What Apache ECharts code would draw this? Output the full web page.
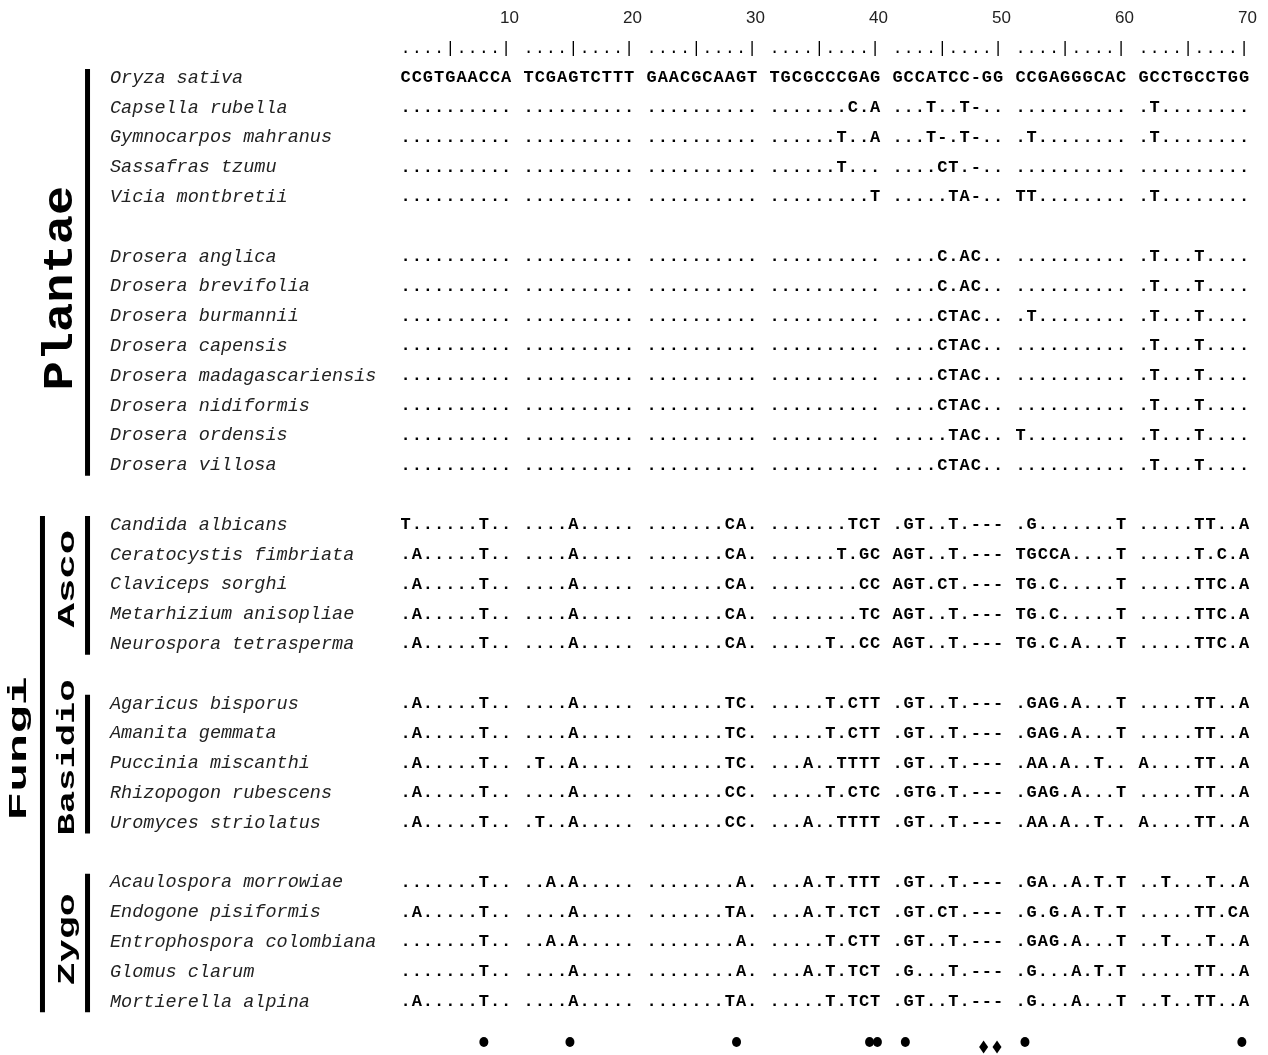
<!DOCTYPE html>
<html><head><meta charset="utf-8">
<script src="https://cdn.jsdelivr.net/npm/echarts@6/dist/echarts.min.js"></script>
<style>html,body{margin:0;padding:0;background:#fff}#c{width:1268px;height:1055px}</style>
</head><body><div id="c"></div>
<script>
// ---------------- data ----------------
const species = [
  'Oryza sativa','Capsella rubella','Gymnocarpos mahranus','Sassafras tzumu','Vicia montbretii',
  'Drosera anglica','Drosera brevifolia','Drosera burmannii','Drosera capensis','Drosera madagascariensis','Drosera nidiformis','Drosera ordensis','Drosera villosa',
  'Candida albicans','Ceratocystis fimbriata','Claviceps sorghi','Metarhizium anisopliae','Neurospora tetrasperma',
  'Agaricus bisporus','Amanita gemmata','Puccinia miscanthi','Rhizopogon rubescens','Uromyces striolatus',
  'Acaulospora morrowiae','Endogone pisiformis','Entrophospora colombiana','Glomus clarum','Mortierella alpina'
];
const sequences = [
  'CCGTGAACCA TCGAGTCTTT GAACGCAAGT TGCGCCCGAG GCCATCC-GG CCGAGGGCAC GCCTGCCTGG',
  '.......... .......... .......... .......C.A ...T..T-.. .......... .T........',
  '.......... .......... .......... ......T..A ...T-.T-.. .T........ .T........',
  '.......... .......... .......... ......T... ....CT.-.. .......... ..........',
  '.......... .......... .......... .........T .....TA-.. TT........ .T........',
  '.......... .......... .......... .......... ....C.AC.. .......... .T...T....',
  '.......... .......... .......... .......... ....C.AC.. .......... .T...T....',
  '.......... .......... .......... .......... ....CTAC.. .T........ .T...T....',
  '.......... .......... .......... .......... ....CTAC.. .......... .T...T....',
  '.......... .......... .......... .......... ....CTAC.. .......... .T...T....',
  '.......... .......... .......... .......... ....CTAC.. .......... .T...T....',
  '.......... .......... .......... .......... .....TAC.. T......... .T...T....',
  '.......... .......... .......... .......... ....CTAC.. .......... .T...T....',
  'T......T.. ....A..... .......CA. .......TCT .GT..T.--- .G.......T .....TT..A',
  '.A.....T.. ....A..... .......CA. ......T.GC AGT..T.--- TGCCA....T .....T.C.A',
  '.A.....T.. ....A..... .......CA. ........CC AGT.CT.--- TG.C.....T .....TTC.A',
  '.A.....T.. ....A..... .......CA. ........TC AGT..T.--- TG.C.....T .....TTC.A',
  '.A.....T.. ....A..... .......CA. .....T..CC AGT..T.--- TG.C.A...T .....TTC.A',
  '.A.....T.. ....A..... .......TC. .....T.CTT .GT..T.--- .GAG.A...T .....TT..A',
  '.A.....T.. ....A..... .......TC. .....T.CTT .GT..T.--- .GAG.A...T .....TT..A',
  '.A.....T.. .T..A..... .......TC. ...A..TTTT .GT..T.--- .AA.A..T.. A....TT..A',
  '.A.....T.. ....A..... .......CC. .....T.CTC .GTG.T.--- .GAG.A...T .....TT..A',
  '.A.....T.. .T..A..... .......CC. ...A..TTTT .GT..T.--- .AA.A..T.. A....TT..A',
  '.......T.. ..A.A..... ........A. ...A.T.TTT .GT..T.--- .GA..A.T.T ..T...T..A',
  '.A.....T.. ....A..... .......TA. ...A.T.TCT .GT.CT.--- .G.G.A.T.T .....TT.CA',
  '.......T.. ..A.A..... ........A. .....T.CTT .GT..T.--- .GAG.A...T ..T...T..A',
  '.......T.. ....A..... ........A. ...A.T.TCT .G...T.--- .G...A.T.T .....TT..A',
  '.A.....T.. ....A..... .......TA. .....T.TCT .GT..T.--- .G...A...T ..T..TT..A'
];
const groupSizes = [5, 8, 5, 5, 5];
const kingdoms = [{name: 'Plantae', first: 0, last: 1}, {name: 'Fungi', first: 2, last: 4}];
const phyla = [{name: 'Asco', group: 2}, {name: 'Basidio', group: 3}, {name: 'Zygo', group: 4}];
const tickLabels = ['10', '20', '30', '40', '50', '60', '70'];
const rulerBlock = '....|....|';
const circleSites = [8, 14.7, 28.6, 39.5, 40.2, 41.7, 51.4, 69.8];
const diamondSites = [48.7, 49.9];

// ---------------- layout ----------------
const X0 = 405.6, PITCH = 11.18, ROW0 = 78, ROWH = 29.8, W = 1268, H = 1055;
const NAME_COL = (110 - X0) / PITCH;
const col = pos => { const k = pos - 1; return k + Math.floor(k / 10); };

const rows = []; const groupRows = [];
let r = 0;
groupSizes.forEach(n => { const g = []; for (let i = 0; i < n; i++) { g.push(r); rows.push(r++); } groupRows.push(g); r++; });
const markRow = rows[rows.length - 1] + 1.35;

const seqCells = [];
sequences.forEach((s, i) => {
  s.split(' ').forEach((blk, b) => {
    blk.split('').forEach((ch, j) => seqCells.push({p: col(b * 10 + j + 1), r: rows[i], ch}));
  });
});
const rulerCells = [];
tickLabels.forEach((t, b) => rulerBlock.split('').forEach((ch, j) => rulerCells.push({p: col(b * 10 + j + 1), r: -1, ch})));
const tickCells = tickLabels.map((t, b) => ({p: col((b + 1) * 10) + 0.3, r: -2, ch: t}));
const nameCells = species.map((s, i) => ({p: NAME_COL, r: rows[i], ch: s}));

function textSeries(cells, font, fill, align) {
  return {
    type: 'custom', silent: true, progressive: 0, animation: false,
    data: cells.map((c, i) => [c.p, c.r, i]),
    renderItem: (params, api) => {
      const c = cells[api.value(2)];
      const pt = api.coord([api.value(0), api.value(1)]);
      return {type: 'text', x: pt[0], y: pt[1],
        style: {text: c.ch, font, fill, align, verticalAlign: 'middle'}};
    }
  };
}

const bars = [];
kingdoms.forEach(k => bars.push({x: k.name === 'Plantae' ? -28.45 : -32.48,
  r0: groupRows[k.first][0], r1: groupRows[k.last][groupRows[k.last].length - 1]}));
phyla.forEach(p => bars.push({x: -28.45, r0: groupRows[p.group][0], r1: groupRows[p.group][groupRows[p.group].length - 1]}));

const cladeStyle = {
  Plantae: {x: -30.8, dy: 0.55, size: 42, s: 1.16},
  Fungi:   {x: -34.5, dy: -0.5, size: 26, s: 1.85},
  Asco:    {x: -30.2, dy: -0.2, size: 24, s: 1.7},
  Basidio: {x: -30.2, dy: -0.2, size: 24, s: 1.55},
  Zygo:    {x: -30.2, dy: -0.1, size: 24, s: 1.6}
};
const cladeCells = [];
kingdoms.forEach(k => {
  const a = groupRows[k.first][0], b = groupRows[k.last][groupRows[k.last].length - 1];
  cladeCells.push({name: k.name, r: (a + b) / 2});
});
phyla.forEach(p => {
  const g = groupRows[p.group];
  cladeCells.push({name: p.name, r: (g[0] + g[g.length - 1]) / 2});
});

const chart = echarts.init(document.getElementById('c'), null, {renderer: 'canvas'});
chart.setOption({
  animation: false,
  backgroundColor: '#fff',
  grid: {left: 0, right: 0, top: 0, bottom: 0},
  xAxis: {type: 'value', min: -X0 / PITCH, max: (W - X0) / PITCH, show: false},
  yAxis: {type: 'value', inverse: true, min: -ROW0 / ROWH, max: (H - ROW0) / ROWH, show: false},
  series: [
    textSeries(nameCells, 'italic 18.5px "Liberation Mono"', '#222', 'left'),
    textSeries(seqCells, 'bold 17px "Liberation Mono"', '#000', 'center'),
    textSeries(rulerCells, '17px "Liberation Mono"', '#000', 'center'),
    textSeries(tickCells, '17px "Liberation Sans"', '#222', 'center'),
    {
      type: 'custom', silent: true, progressive: 0,
      data: bars.map((b, i) => [b.x, b.r0, b.r1, i]),
      renderItem: (params, api) => {
        const a = api.coord([api.value(0), api.value(1) - 0.3]);
        const b = api.coord([api.value(0), api.value(2) + 0.35]);
        return {type: 'rect', shape: {x: a[0] - 2.5, y: a[1], width: 5, height: b[1] - a[1]}, style: {fill: '#000'}};
      }
    },
    {
      type: 'custom', silent: true, progressive: 0,
      data: cladeCells.map((c, i) => [cladeStyle[c.name].x, c.r + cladeStyle[c.name].dy, i]),
      renderItem: (params, api) => {
        const c = cladeCells[api.value(2)];
        const st = cladeStyle[c.name];
        const pt = api.coord([api.value(0), api.value(1)]);
        return {type: 'text', x: pt[0], y: pt[1], rotation: Math.PI / 2, scaleX: st.s, scaleY: 1,
          style: {text: c.name, font: 'bold ' + st.size + 'px "Liberation Mono"', fill: '#000', align: 'center', verticalAlign: 'middle'}};
      }
    },
    {type: 'scatter', silent: true, symbol: 'circle', symbolSize: [9, 10], itemStyle: {color: '#000', opacity: 1},
      data: circleSites.map(s => [col(s), markRow])},
    {type: 'scatter', silent: true, symbol: 'diamond', symbolSize: [9, 13], itemStyle: {color: '#000', opacity: 1},
      data: diamondSites.map(s => [col(s), markRow + 0.17])}
  ]
});
</script></body></html>
